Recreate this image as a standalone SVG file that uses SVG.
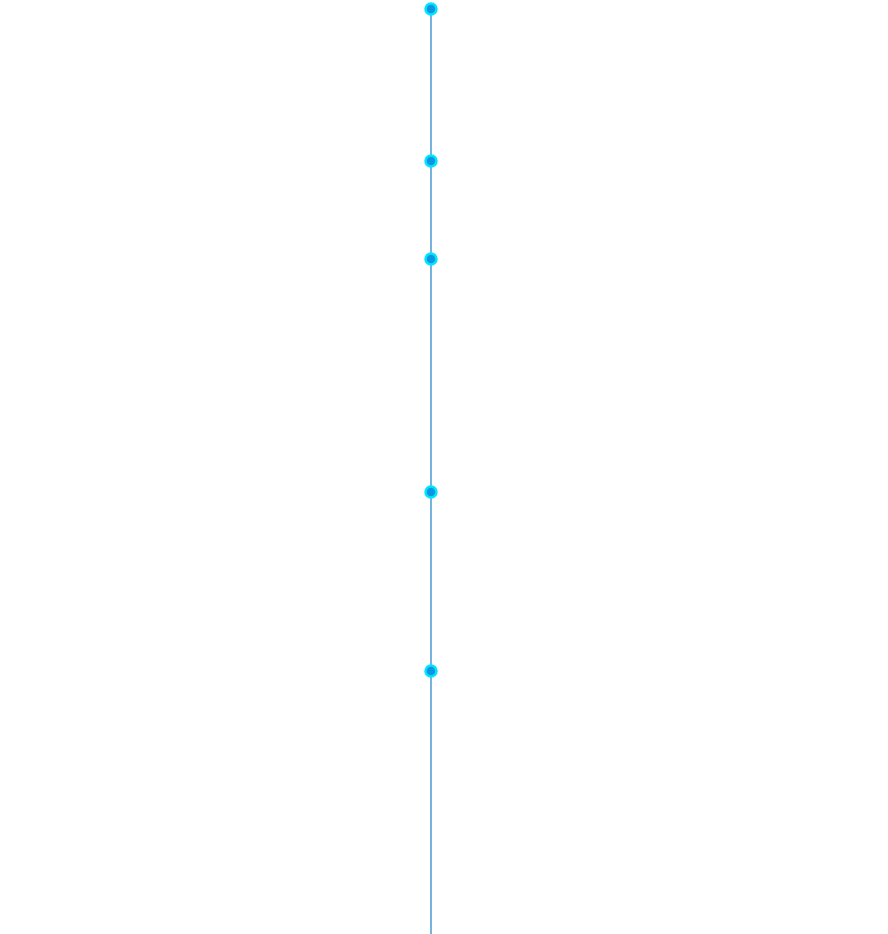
<svg xmlns="http://www.w3.org/2000/svg" width="888" height="934" viewBox="0 0 888 934">
<style>
.dot{fill:#0a96e0;stroke:#00e5ff;stroke-width:2.5}
.axis{stroke:#1a80c8;stroke-width:1.2;fill:none}
</style>
<rect width="888" height="934" fill="#ffffff"/>
<g id="connectors">
<line class="axis" x1="431" y1="9" x2="431" y2="934"/>
</g>
<g id="n1"><circle class="dot" cx="431" cy="9" r="5.5"/></g>
<g id="n2"><circle class="dot" cx="431" cy="161" r="5.5"/></g>
<g id="n3"><circle class="dot" cx="431" cy="259" r="5.5"/></g>
<g id="n4"><circle class="dot" cx="431" cy="492" r="5.5"/></g>
<g id="n5"><circle class="dot" cx="431" cy="671" r="5.5"/></g>
</svg>
